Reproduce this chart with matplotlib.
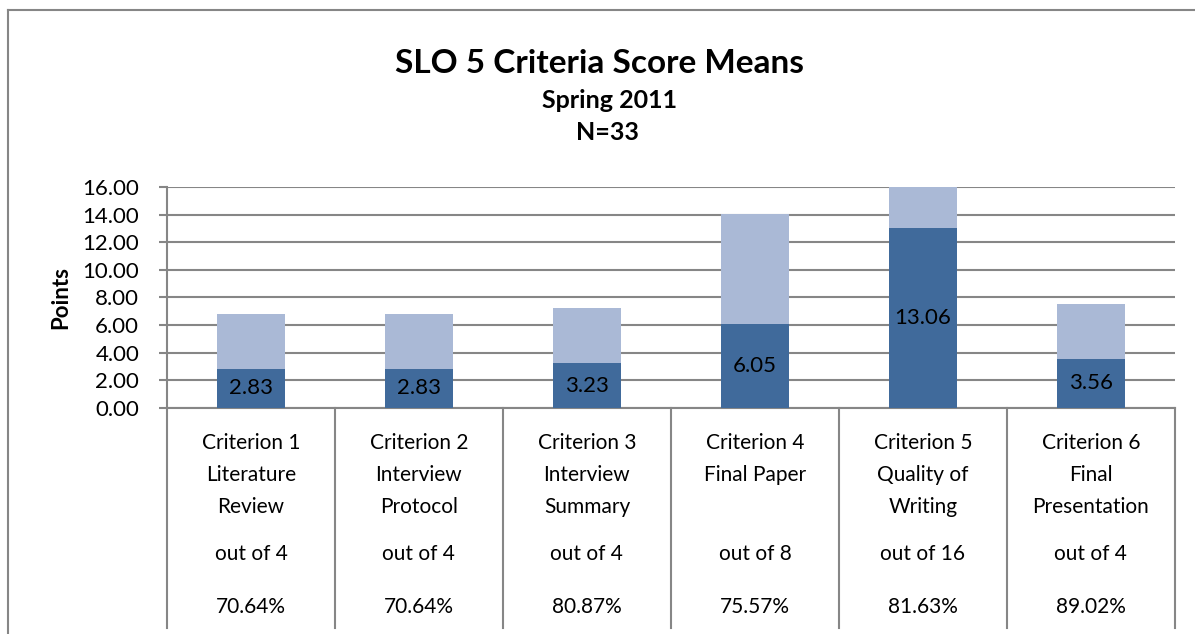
import matplotlib.pyplot as plt
from matplotlib.lines import Line2D

# data
criteria = ['Criterion 1\nLiterature\nReview', 'Criterion 2\nInterview\nProtocol',
            'Criterion 3\nInterview\nSummary', 'Criterion 4\nFinal Paper',
            'Criterion 5\nQuality of\nWriting', 'Criterion 6\nFinal\nPresentation']
means = [2.83, 2.83, 3.23, 6.05, 13.06, 3.56]
out_of = [4, 4, 4, 8, 16, 4]
percents = ['70.64%', '70.64%', '80.87%', '75.57%', '81.63%', '89.02%']

plt.rcParams['font.family'] = ['Lato', 'DejaVu Sans']
grey = '#868686'
dark = '#406A9B'
light = '#AAB9D6'

fig = plt.figure(figsize=(11.95, 6.34), dpi=100)
ax = fig.add_axes([0.1397, 0.3565, 0.8435, 0.3486])

x = list(range(len(means)))
ax.bar(x, means, width=0.4, color=dark, zorder=3)
ax.bar(x, out_of, width=0.4, bottom=means, color=light, zorder=3)
for xi, m in zip(x, means):
    ax.text(xi, m / 2, f'{m:.2f}', ha='center', va='center', fontsize=16, zorder=4)

ax.set_ylim(0, 16)
ax.set_xlim(-0.5, len(means) - 0.5)
ax.set_yticks(range(0, 17, 2))
ax.set_yticklabels([f'{v:.2f}' for v in range(0, 17, 2)], fontsize=16)
ax.tick_params(axis='y', length=6, width=1.5, color=grey, pad=14)
ax.set_xticks([])
ax.grid(axis='y', color=grey, linewidth=1.5, zorder=0)
ax.set_axisbelow(True)
for s in ['top', 'right']:
    ax.spines[s].set_visible(False)
for s in ['left', 'bottom']:
    ax.spines[s].set_color(grey)
    ax.spines[s].set_linewidth(1.5)
ax.set_ylabel('Points', fontsize=16, fontweight='bold', labelpad=8)

# table below the axis
tr = ax.get_xaxis_transform()
for b in range(len(means) + 1):
    ax.add_line(Line2D([b - 0.5, b - 0.5], [0, -0.995], transform=tr, color=grey,
                       linewidth=1.5, clip_on=False))
line_y = [-0.158, -0.303, -0.448]
for xi in x:
    for k, part in enumerate(criteria[xi].split('\n')):
        ax.text(xi, line_y[k], part, transform=tr, ha='center', va='center', fontsize=15)
    ax.text(xi, -0.661, f'out of {out_of[xi]}', transform=tr, ha='center', va='center', fontsize=15)
    ax.text(xi, -0.9, percents[xi], transform=tr, ha='center', va='center', fontsize=15)

fig.text(0.502, 0.885, 'SLO 5 Criteria Score Means', ha='center', va='baseline',
         fontsize=24, fontweight='bold')
fig.text(0.51, 0.830, 'Spring 2011', ha='center', va='baseline', fontsize=18, fontweight='bold')
fig.text(0.508, 0.779, 'N=33', ha='center', va='baseline', fontsize=18, fontweight='bold')

# outer chart frame
fig.add_artist(Line2D([0.0067, 0.0067], [0, 0.984], color=grey, linewidth=1.5))
fig.add_artist(Line2D([0.0067, 1], [0.984, 0.984], color=grey, linewidth=1.5))

fig.savefig('out.png', dpi=100)
